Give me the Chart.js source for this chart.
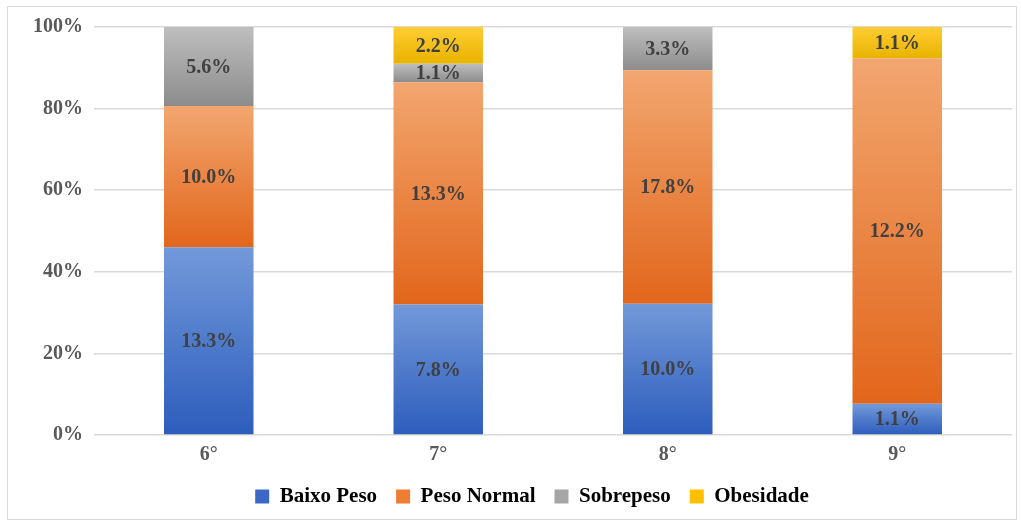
<!DOCTYPE html>
<html>
<head>
<meta charset="utf-8">
<script src="https://cdn.jsdelivr.net/npm/chart.js@4.4.1/dist/chart.umd.min.js"></script>
<style>
    html, body { margin: 0; padding: 0; background: #ffffff; }
    #wrap { position: relative; width: 1021px; height: 523px; }
</style>
</head>
<body>
<div id="wrap"><canvas id="chart" width="1021" height="523"></canvas></div>
<script>
// Data (share of all pupils, in %)
const grades = ['6°', '7°', '8°', '9°'];
const baixoPeso = [13.3, 7.8, 10.0, 1.1];
const pesoNormal = [10.0, 13.3, 17.8, 12.2];
const sobrepeso = [5.6, 1.1, 3.3, 0];
const obesidade = [0, 2.2, 0, 1.1];
const seriesNames = ['Baixo Peso', 'Peso Normal', 'Sobrepeso', 'Obesidade'];
const yTicks = [0, 20, 40, 60, 80, 100];

const FONT = "'Liberation Serif', 'Times New Roman', serif";

// top / bottom colours of each segment gradient
const gradColors = [
    ['#7299d9', '#2d5dbd'],
    ['#f2a66f', '#e2661b'],
    ['#bebebe', '#8c8c8c'],
    ['#ffcd33', '#e8b300']
];
const legendColors = ['#3a68c4', '#ed7d31', '#a5a5a5', '#ffc000'];

const raw = [baixoPeso, pesoNormal, sobrepeso, obesidade];
const totals = grades.map((g, i) => raw.reduce((s, arr) => s + arr[i], 0));
// stacked bars fill each column to 100%
const pct = raw.map(arr => arr.map((v, i) => v / totals[i] * 100));

function segmentFill(dsIndex) {
    return function (c) {
        const chart = c.chart;
        if (!chart.chartArea || c.type !== 'data') return legendColors[dsIndex];
        const y = chart.scales.y;
        let start = 0;
        for (let k = 0; k < dsIndex; k++) start += pct[k][c.dataIndex];
        const end = start + pct[dsIndex][c.dataIndex];
        const yTop = y.getPixelForValue(end);
        const yBot = y.getPixelForValue(start);
        if (!(yBot > yTop)) return legendColors[dsIndex];
        const g = chart.ctx.createLinearGradient(0, yTop, 0, yBot);
        g.addColorStop(0, gradColors[dsIndex][0]);
        g.addColorStop(1, gradColors[dsIndex][1]);
        return g;
    };
}

// value labels in the middle of each segment
const valueLabels = {
    id: 'valueLabels',
    afterDatasetsDraw(chart) {
        const ctx = chart.ctx;
        ctx.save();
        ctx.font = 'bold 20px ' + FONT;
        ctx.fillStyle = '#404040';
        ctx.textAlign = 'center';
        ctx.textBaseline = 'middle';
        chart.data.datasets.forEach((ds, di) => {
            chart.getDatasetMeta(di).data.forEach((bar, i) => {
                const v = raw[di][i];
                if (!v) return;
                ctx.fillText(v.toFixed(1) + '%', bar.x, (bar.y + bar.base) / 2 + 1);
            });
        });
        ctx.restore();
    }
};

// thin frame around the whole chart
const frame = {
    id: 'frame',
    beforeDraw(chart) {
        const ctx = chart.ctx;
        ctx.save();
        ctx.strokeStyle = '#d9d9d9';
        ctx.lineWidth = 1;
        ctx.strokeRect(7.5, 6.5, 1009, 513);
        ctx.restore();
    }
};

// the legend sits a little right of centre in the original
const legendShift = {
    id: 'legendShift',
    afterLayout(chart) {
        chart.legend.left += 15;
        chart.legend.right += 15;
    }
};

new Chart(document.getElementById('chart').getContext('2d'), {
    type: 'bar',
    data: {
        labels: grades,
        datasets: seriesNames.map((name, di) => ({
            label: name,
            data: pct[di],
            backgroundColor: segmentFill(di),
            borderWidth: 0,
            barPercentage: 0.39,
            categoryPercentage: 1
        }))
    },
    options: {
        responsive: false,
        animation: false,
        layout: { padding: { left: 22, right: 9, top: 27, bottom: 6 } },
        scales: {
            x: {
                stacked: true,
                grid: { display: false },
                border: { display: false },
                ticks: { color: '#595959', font: { family: FONT, size: 20, weight: 'bold' }, padding: 0 }
            },
            y: {
                stacked: true,
                min: 0,
                max: 100,
                afterBuildTicks: axis => { axis.ticks = yTicks.map(v => ({ value: v })); },
                grid: { color: '#d9d9d9', lineWidth: 1.5, drawTicks: false },
                border: { display: false },
                ticks: {
                    color: '#595959',
                    font: { family: FONT, size: 20, weight: 'bold' },
                    padding: 11,
                    callback: v => v + '%'
                }
            }
        },
        plugins: {
            tooltip: { enabled: false },
            legend: {
                position: 'bottom',
                labels: {
                    color: '#595959',
                    font: { family: FONT, size: 21, weight: 'bold' },
                    boxWidth: 14,
                    boxHeight: 14,
                    padding: 19,
                    generateLabels: chart => seriesNames.map((name, di) => ({
                        text: name,
                        fillStyle: legendColors[di],
                        strokeStyle: legendColors[di],
                        lineWidth: 0,
                        datasetIndex: di
                    }))
                }
            }
        }
    },
    plugins: [frame, legendShift, valueLabels]
});
</script>
</body>
</html>
